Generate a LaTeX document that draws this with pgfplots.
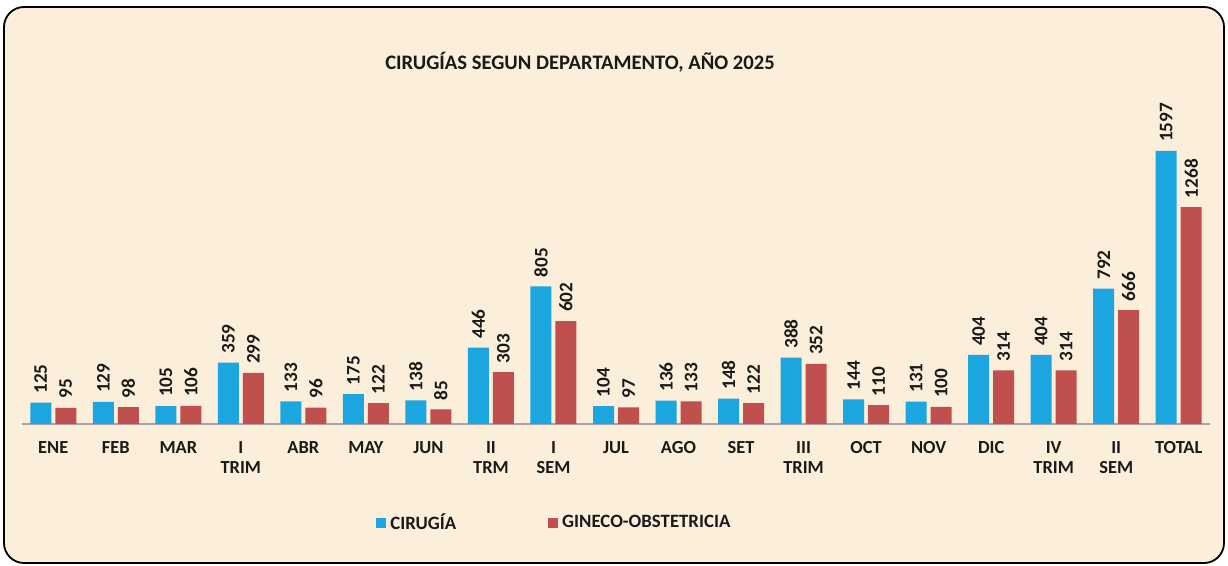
\documentclass[border=0pt]{standalone}
\usepackage{pgfplots}
\pgfplotsset{compat=1.18}
\usepackage{fontspec}
\setmainfont{Carlito}
\definecolor{cblue}{HTML}{1BA6E0}
\definecolor{cred}{HTML}{C0504D}
\definecolor{bg}{HTML}{FBEEDA}
\definecolor{txt}{HTML}{1A1A1A}
\begin{document}
\begin{tikzpicture}
\begin{scope}[x=0.5pt,y=-0.5pt]
\path (0,0) rectangle (1228,566);
\draw[fill=bg, draw=black, line width=0.9pt, rounded corners=10pt] (4,7) rectangle (1224,563);
\node[font=\bfseries\fontsize{10.3}{12}\selectfont, text=txt] at (580,62) {CIRUGÍAS SEGUN DEPARTAMENTO, AÑO 2025};
\end{scope}
\begin{axis}[
  at={(11pt,-212pt)}, anchor=south west,
  scale only axis, width=594pt, height=171pt,
  xmin=-0.5, xmax=18.5, ymin=0, ymax=2000,
  axis x line=bottom, axis y line=none,
  x axis line style={draw=gray!70, -, line width=0.6pt},
  xtick=data, xtick style={draw=none},
  xticklabels={ENE,FEB,MAR,{I\\TRIM},ABR,MAY,JUN,{II\\TRM},{I\\SEM},JUL,AGO,SET,{III\\TRIM},OCT,NOV,DIC,{IV\\TRIM},{II\\SEM},TOTAL},
  xticklabel style={align=center, font=\bfseries\fontsize{9.2}{10}\selectfont, text=txt, yshift=-1pt},
  ybar=2pt, bar width=10.5pt,
  nodes near coords,
  nodes near coords style={/pgf/number format/assume math mode=true, /pgf/number format/1000 sep={}},
  every node near coord/.append style={rotate=90, anchor=west, font=\bfseries\fontsize{9.6}{10}\selectfont, text=txt, xshift=1pt},
  legend columns=2,
  legend style={at={(0.449,-0.29)}, anchor=center, draw=none, fill=none,
    font=\bfseries\fontsize{9.4}{10}\selectfont, text=txt,
    /tikz/every even column/.append style={column sep=44pt}},
  legend image code/.code={\fill[#1] (0pt,-2.5pt) rectangle (5pt,2.5pt);},
]
\addplot[fill=cblue, draw=none] coordinates {(0,125) (1,129) (2,105) (3,359) (4,133) (5,175) (6,138) (7,446) (8,805) (9,104) (10,136) (11,148) (12,388) (13,144) (14,131) (15,404) (16,404) (17,792) (18,1597)};
\addplot[fill=cred, draw=none] coordinates {(0,95) (1,98) (2,106) (3,299) (4,96) (5,122) (6,85) (7,303) (8,602) (9,97) (10,133) (11,122) (12,352) (13,110) (14,100) (15,314) (16,314) (17,666) (18,1268)};
\legend{CIRUGÍA, GINECO-OBSTETRICIA}
\end{axis}
\end{tikzpicture}
\end{document}
